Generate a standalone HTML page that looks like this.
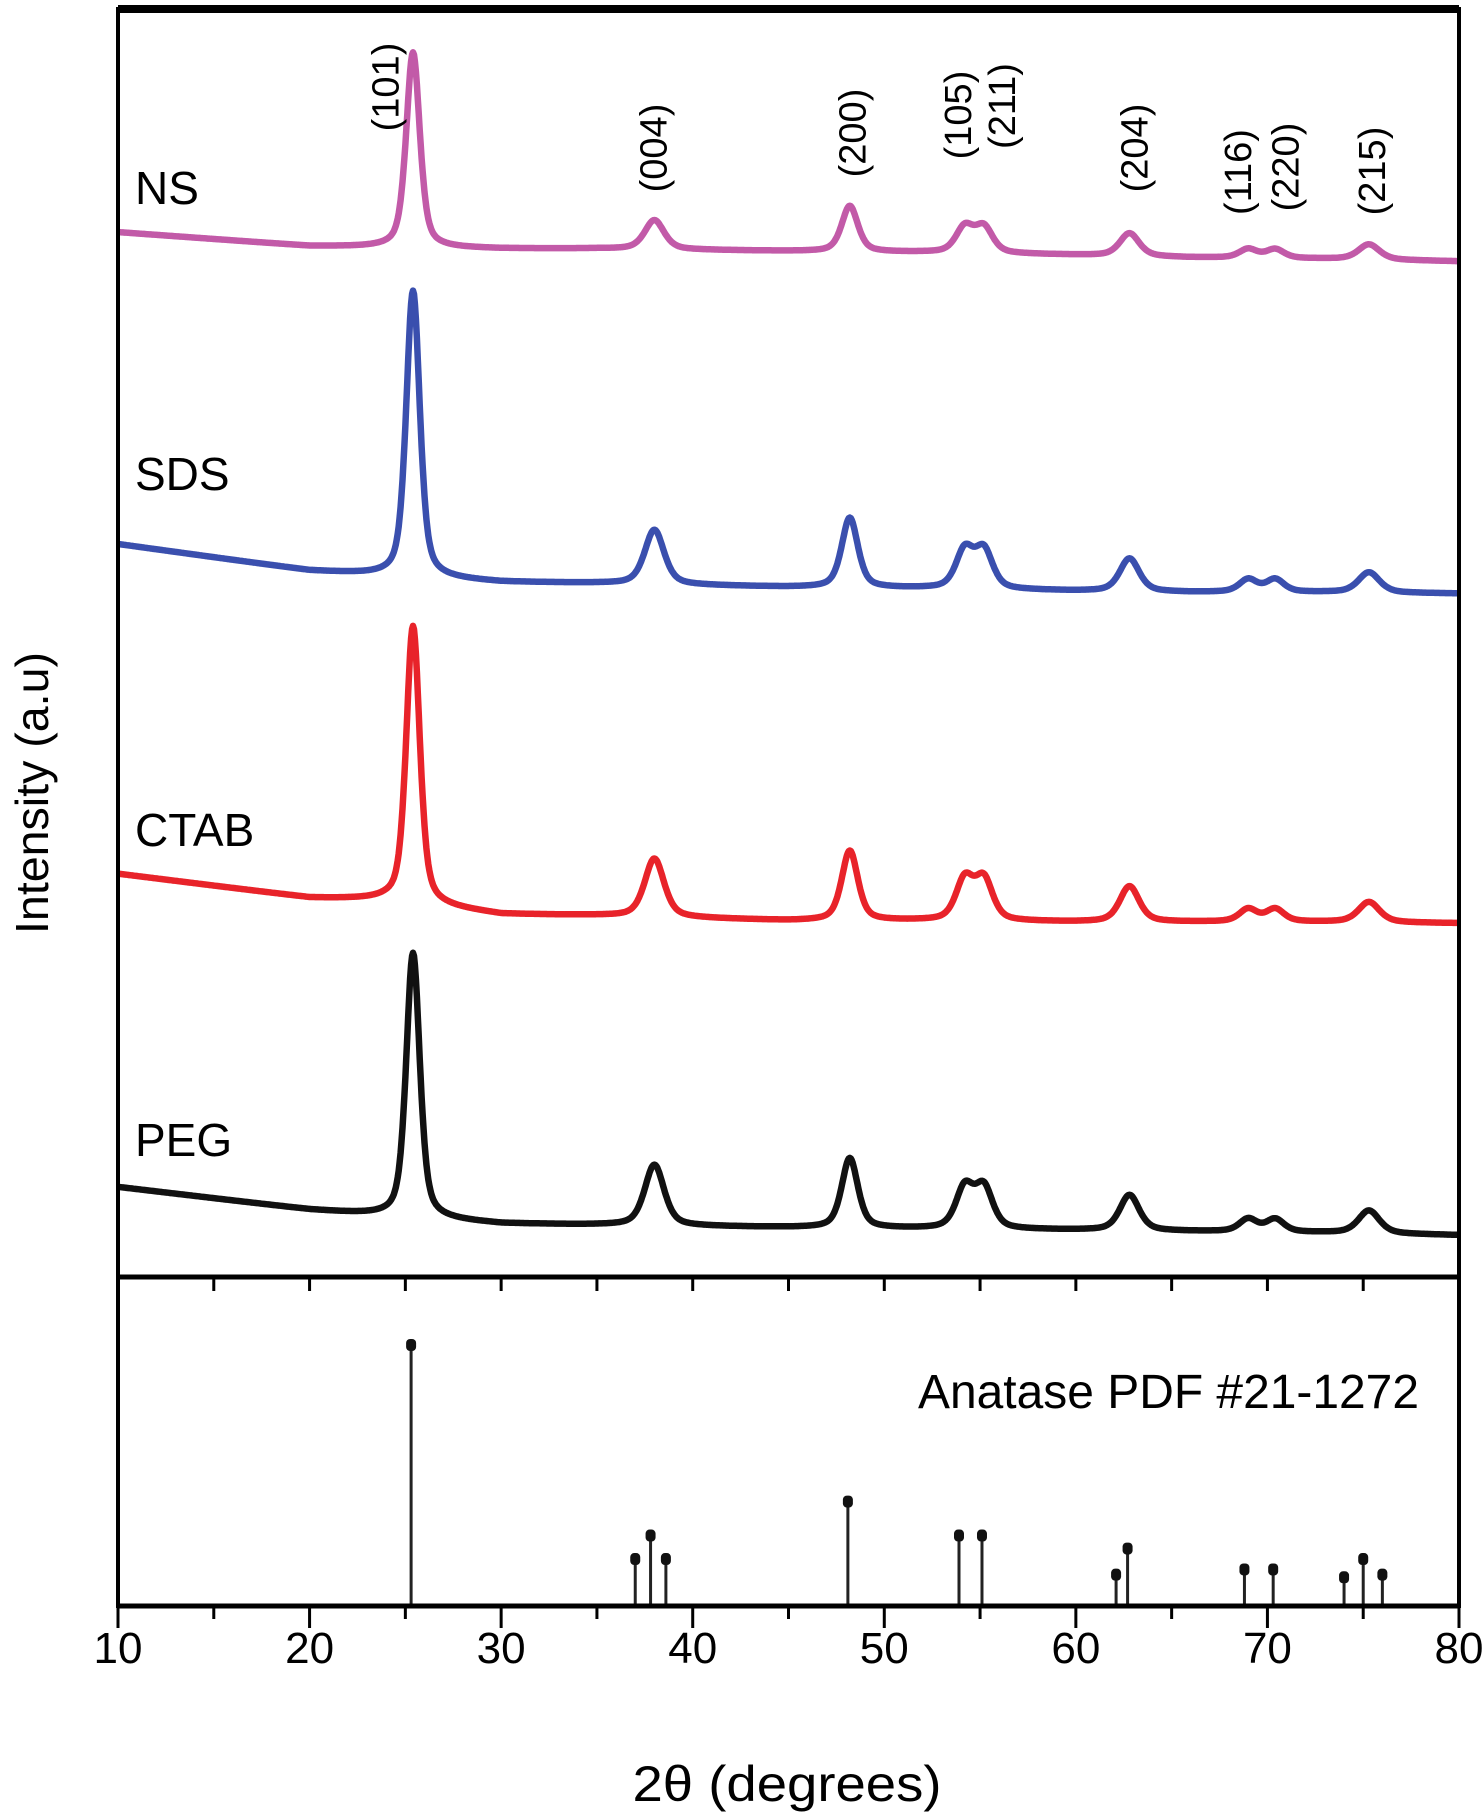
<!DOCTYPE html>
<html><head><meta charset="utf-8">
<style>
html,body{margin:0;padding:0;background:#fff;}
svg{display:block;font-family:"Liberation Sans",Arial,sans-serif;}
</style></head>
<body>
<svg id="chart" width="1482" height="1817" viewBox="0 0 1482 1817" xmlns="http://www.w3.org/2000/svg">
<rect x="0" y="0" width="1482" height="1817" fill="#fff"/>
<g id="series-layer"></g>
<g id="stick-layer"></g>
<g id="frame-layer"></g>
<text x="787" y="1801" font-size="50" text-anchor="middle" textLength="309" lengthAdjust="spacingAndGlyphs">2θ (degrees)</text>
<text transform="translate(48,793) rotate(-90)" font-size="46" text-anchor="middle" textLength="282" lengthAdjust="spacingAndGlyphs">Intensity (a.u)</text>
<text x="918" y="1408" font-size="48" textLength="501" lengthAdjust="spacingAndGlyphs">Anatase PDF #21-1272</text>
</svg>
<script>
const xTicks = [10,20,30,40,50,60,70,80];
const baseX = [10,20,24,30,35,45,52,60,66,73,80];
const peakPos = [25.4,38.0,48.2,54.2,55.2,62.8,69.0,70.4,75.3];
const peakWidth = [0.42,0.6,0.5,0.55,0.55,0.6,0.55,0.55,0.65];
const seriesNames = ["NS","SDS","CTAB","PEG"];
const seriesColors = ["#c25aa8","#3a4fae","#e8232a","#111111"];
const baseNS = [824,813,812,811,811,809,808,806,804,803,801];
const baseSDS = [578,557,553,548,547,544,543,541,540,540,539];
const baseCTAB = [318,299,297,286,285,281,281,280,280,280,279];
const basePEG = [71,53,48,42,41,39,38,37,36,35,33];
const peaksNS = [154,23,36,20,20,18,7,7,12];
const peaksSDS = [226,43,55,30,30,26,10,10,16];
const peaksCTAB = [219,46,55,32,32,28,10,10,16];
const peaksPEG = [209,48,55,32,32,28,10,10,18];
const labelYs = [204,490,846,1156];
const hklLabels = ["(101)","(004)","(200)","(105)","(211)","(204)","(116)","(220)","(215)"];
const hklPos = [23.9,37.9,48.3,53.8,56.1,63.0,68.4,70.9,75.4];
const stickPos = [25.3,37.0,37.8,38.6,48.1,53.9,55.1,62.1,62.7,68.8,70.3,74.0,75.0,76.0];
const stickInt = [100,18,27,18,40,27,27,12,22,14,14,11,18,12];

const NS="http://www.w3.org/2000/svg";
const L=118,R=1459,TOP=9,DIV=1277,BOT=1606;
const xs=v=>L+(v-10)*(R-L)/70;
const ys=v=>DIV-v*(DIV-TOP)/1000;
const ysStick=v=>BOT-v*2.61;
function mk(tag,attrs,parent){const e=document.createElementNS(NS,tag);for(const k in attrs)e.setAttribute(k,attrs[k]);parent.appendChild(e);return e;}
function interp(xArr,yArr,x){for(let i=0;i<xArr.length-1;i++){if(x<=xArr[i+1]){const t=(x-xArr[i])/(xArr[i+1]-xArr[i]);return yArr[i]+t*(yArr[i+1]-yArr[i]);}}return yArr[yArr.length-1];}
function profile(x,c,h,w){const d=(x-c)/w;return h*(0.5/(1+d*d)+0.5*Math.exp(-0.693*d*d));}

const bases=[baseNS,baseSDS,baseCTAB,basePEG];
const peaks=[peaksNS,peaksSDS,peaksCTAB,peaksPEG];
const sl=document.getElementById('series-layer');
for(let s=0;s<4;s++){
  let d="";
  for(let x=10;x<=80.0001;x+=0.05){
    let v=interp(baseX,bases[s],x);
    for(let p=0;p<peakPos.length;p++)v+=profile(x,peakPos[p],peaks[s][p],peakWidth[p]);
    d+=(d?"L":"M")+xs(x).toFixed(1)+","+ys(v).toFixed(1);
  }
  const path=mk('path',{d:d,fill:'none',stroke:seriesColors[s],'stroke-width':6.5,'stroke-linejoin':'round'},sl);
  
  
  const t=mk('text',{x:135,y:labelYs[s],'font-size':46},sl);
  t.textContent=seriesNames[s];
  
  
}
const hy=[87,148,133,115,106,148,172,167,171];
for(let i=0;i<hklLabels.length;i++){
  const t=mk('text',{transform:'translate('+(xs(hklPos[i])+14).toFixed(1)+','+hy[i]+') rotate(-90)','font-size':38,'text-anchor':'middle'},sl);
  t.textContent=hklLabels[i];
  
  
}
const st=document.getElementById('stick-layer');
for(let i=0;i<stickPos.length;i++){
  const x=xs(stickPos[i]),y=ysStick(stickInt[i]);
  const l=mk('line',{x1:x,x2:x,y1:BOT,y2:y,stroke:'#222','stroke-width':3},st);
  
  
  const c=mk('rect',{x:x-5,y:y-6,width:10,height:12,rx:4,fill:'#111'},st);
  
  
}
const fr=document.getElementById('frame-layer');
const box=mk('rect',{x:L,y:TOP,width:R-L,height:BOT-TOP,fill:'none',stroke:'#000','stroke-width':4},fr);


mk('line',{x1:L,x2:R,y1:TOP,y2:TOP,stroke:'#000','stroke-width':8},fr);
const dv=mk('line',{x1:L,x2:R,y1:DIV,y2:DIV,stroke:'#000','stroke-width':5},fr);


mk('line',{x1:L,x2:R,y1:BOT,y2:BOT,stroke:'#000','stroke-width':5},fr);
for(let v=10;v<=80;v+=5){
  const x=xs(v),major=(v%10===0);
  const t1=mk('line',{x1:x,x2:x,y1:DIV,y2:DIV+14,stroke:'#000','stroke-width':3},fr);
  
  
  const t2=mk('line',{x1:x,x2:x,y1:BOT,y2:BOT+(major?22:13),stroke:'#000','stroke-width':3},fr);
  
  
}
for(const v of xTicks){
  const t=mk('text',{x:xs(v),y:1663,'font-size':44,'text-anchor':'middle'},fr);
  t.textContent=String(v);
  
  
}
</script>
</body></html>
